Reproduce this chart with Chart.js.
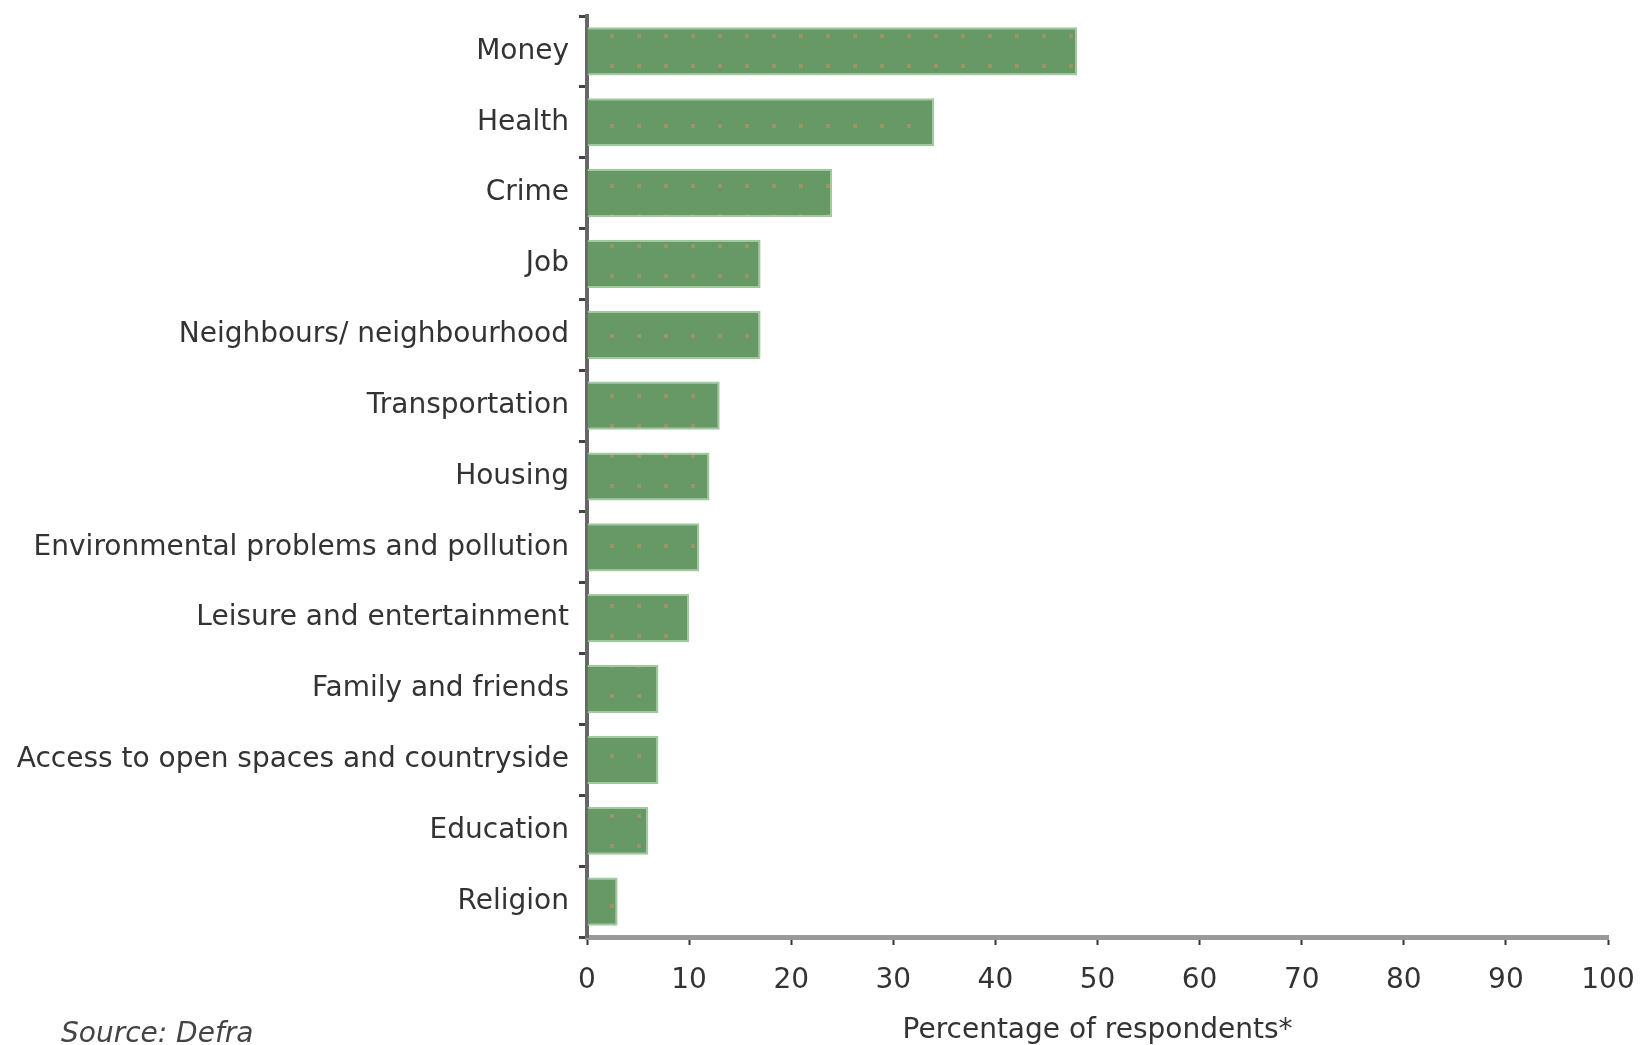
<!DOCTYPE html>
<html>
<head>
<meta charset="utf-8">
<title>Concerns</title>
<script src="https://cdn.jsdelivr.net/npm/chart.js@4.4.1/dist/chart.umd.min.js"></script>
<style>
    body { margin: 0; background: #fff; }
    #wrap { width: 1641px; height: 1045px; }
</style>
</head>
<body>
<div id="wrap"><canvas id="concernsChart" width="1641" height="1045"></canvas></div>
<script>
// Share of respondents naming each concern
const categories = [
    'Money', 'Health', 'Crime', 'Job', 'Neighbours/ neighbourhood', 'Transportation',
    'Housing', 'Environmental problems and pollution', 'Leisure and entertainment',
    'Family and friends', 'Access to open spaces and countryside', 'Education', 'Religion'
];
const percentages = [48, 34, 24, 17, 17, 13, 12, 11, 10, 7, 7, 6, 3];
const xTicks = [0, 10, 20, 30, 40, 50, 60, 70, 80, 90, 100];

const labelFont = 'DejaVu Sans';

// green fill with small tan dots
function dotPattern(ctx) {
    const c = document.createElement('canvas');
    c.width = 27;
    c.height = 30;
    const g = c.getContext('2d');
    g.fillStyle = '#669966';
    g.fillRect(0, 0, 27, 30);
    g.fillStyle = '#9c9462';
    g.fillRect(16, 4, 4, 4);
    return ctx.createPattern(c, 'repeat');
}

const sourceNote = {
    id: 'sourceNote',
    afterDraw(chart) {
        const ctx = chart.ctx;
        ctx.save();
        ctx.font = 'italic 28px "' + labelFont + '"';
        ctx.fillStyle = '#444';
        ctx.textAlign = 'left';
        ctx.textBaseline = 'alphabetic';
        ctx.fillText('Source: Defra', 61, 1042);
        ctx.restore();
    }
};

const canvas = document.getElementById('concernsChart');
const ctx = canvas.getContext('2d');

new Chart(ctx, {
    type: 'bar',
    data: {
        labels: categories,
        datasets: [{
            data: percentages,
            backgroundColor: dotPattern(ctx),
            borderColor: '#9fcb9c',
            borderWidth: { top: 2, right: 2, bottom: 2, left: 0 },
            borderSkipped: false,
            categoryPercentage: 1,
            barPercentage: 0.68
        }]
    },
    options: {
        indexAxis: 'y',
        responsive: false,
        devicePixelRatio: 1,
        animation: false,
        layout: { padding: { top: 16, right: 33, bottom: 0, left: 0 } },
        plugins: {
            legend: { display: false },
            tooltip: { enabled: false }
        },
        scales: {
            x: {
                min: 0,
                max: 100,
                afterFit(scale) {
                    scale.height = 108;
                    scale.paddingLeft = 0;
                    scale.paddingRight = 0;
                },
                afterBuildTicks(scale) { scale.ticks = xTicks.map(v => ({ value: v })); },
                grid: { drawOnChartArea: false, tickLength: 8, color: '#333', tickWidth: 2 },
                border: { color: '#999', width: 5 },
                ticks: {
                    color: '#333',
                    padding: 19,
                    maxRotation: 0,
                    font: { family: labelFont, size: 28 }
                },
                title: {
                    display: true,
                    text: 'Percentage of respondents*',
                    color: '#333',
                    padding: { top: 0, bottom: -3 },
                    font: { family: labelFont, size: 28 }
                }
            },
            y: {
                afterFit(scale) {
                    scale.width = 587;
                    scale.paddingTop = 0;
                    scale.paddingBottom = 0;
                },
                grid: { drawOnChartArea: false, offset: true, tickLength: 8, color: '#444', tickWidth: 3 },
                border: { color: '#666', width: 4 },
                ticks: {
                    color: '#333',
                    padding: 10,
                    autoSkip: false,
                    font: { family: labelFont, size: 28 }
                }
            }
        }
    },
    plugins: [sourceNote]
});
</script>
</body>
</html>
